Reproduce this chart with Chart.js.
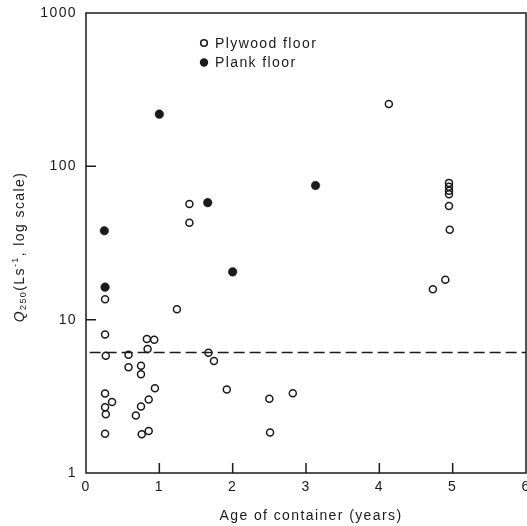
<!DOCTYPE html>
<html><head><meta charset="utf-8">
<script src="https://cdn.jsdelivr.net/npm/chart.js@4"></script>
<style>html,body{margin:0;padding:0;background:#fff}#wrap{width:527px;height:526px}</style>
</head><body><div id="wrap"><canvas id="c" width="527" height="526"></canvas></div>
<script>
const seriesNames = ['Plywood floor', 'Plank floor'];
const plywoodAge = [0.26,0.26,0.27,0.26,0.355,0.26,0.27,0.26,
  0.58,0.58,0.68,0.75,0.75,0.75,0.76,0.83,0.93,0.84,0.855,0.855,0.94,
  1.24,1.41,1.41,1.67,1.745,1.92,2.50,2.51,2.82,
  4.13,4.73,4.90,4.95,4.95,4.95,4.95,4.95,4.96];
const plywoodQ = [13.6,8.0,5.82,3.3,2.9,2.68,2.42,1.8,
  5.9,4.9,2.37,5.0,4.4,2.71,1.79,7.48,7.4,6.44,3.02,1.88,3.57,
  11.7,56.8,42.9,6.09,5.38,3.51,3.05,1.84,3.31,
  255,15.8,18.2,78,73.6,69.4,65.7,55.1,38.6];
const plankAge = [0.25,0.26,1.0,1.66,2.0,3.13];
const plankQ = [38,16.3,219,58,20.5,75];
const thresholdAge = [0.05, 6];
const thresholdQ = [6.1, 6.1];
const xTicks = [0,1,2,3,4,5,6];
const yTicks = [1,10,100,1000];
const xTitle = 'Age of container (years)';
const yTitleParts = ['Q','250','(Ls','-1',', log scale)'];

const FONT = '"Liberation Sans", Arial, Helvetica, sans-serif';
const INK = '#1a1a1a';
const SPACING = '1.4px';

const toPts = (xs, ys) => xs.map((x, i) => ({x: x, y: ys[i]}));

const spacingPlugin = {
  id: 'spacing',
  beforeUpdate(chart) { chart.ctx.letterSpacing = SPACING; },
  beforeDraw(chart) { chart.ctx.letterSpacing = SPACING; }
};

const framePlugin = {
  id: 'frame',
  afterDraw(chart) {
    const {ctx, chartArea: a, scales} = chart;
    ctx.save();
    ctx.strokeStyle = INK;
    ctx.lineWidth = 1.5;
    ctx.strokeRect(a.left, a.top, a.right - a.left, a.bottom - a.top);
    // inward tick marks
    ctx.beginPath();
    xTicks.forEach(v => {
      if (v <= 0 || v >= 6) return;
      const px = scales.x.getPixelForValue(v);
      ctx.moveTo(px, a.bottom); ctx.lineTo(px, a.bottom - 10);
    });
    yTicks.forEach(v => {
      if (v <= 1 || v >= 1000) return;
      const py = scales.y.getPixelForValue(v);
      ctx.moveTo(a.left, py); ctx.lineTo(a.left + 10, py);
    });
    ctx.stroke();

    ctx.letterSpacing = SPACING;
    ctx.fillStyle = INK;
    ctx.textBaseline = 'middle';

    // x-axis title
    ctx.font = '14px ' + FONT;
    ctx.textAlign = 'center';
    ctx.fillText(xTitle, (a.left + a.right) / 2 + 5, 516);

    // legend
    const lx = a.left + 118, ly = a.top + 30;
    ctx.textAlign = 'left';
    ctx.beginPath(); ctx.arc(lx, ly, 3.3, 0, Math.PI * 2); ctx.lineWidth = 1.6; ctx.stroke();
    ctx.fillText(seriesNames[0], lx + 11, ly + 1);
    ctx.beginPath(); ctx.arc(lx, ly + 19.5, 4.2, 0, Math.PI * 2); ctx.fill();
    ctx.fillText(seriesNames[1], lx + 11, ly + 20.5);

    // y-axis title (rotated)
    ctx.save();
    ctx.translate(20, (a.top + a.bottom) / 2 + 4);
    ctx.rotate(-Math.PI / 2);
    const big = '14px ' + FONT, small = '9px ' + FONT, ital = 'italic 14px ' + FONT;
    const segs = [
      {t: yTitleParts[0], f: ital, dy: 0},
      {t: yTitleParts[1], f: small, dy: 3.5},
      {t: yTitleParts[2], f: big, dy: 0},
      {t: yTitleParts[3], f: small, dy: -4.5},
      {t: yTitleParts[4], f: big, dy: 0}
    ];
    let total = 0;
    segs.forEach(s => { ctx.font = s.f; s.w = ctx.measureText(s.t).width; total += s.w; });
    let x = -total / 2;
    segs.forEach(s => { ctx.font = s.f; ctx.fillText(s.t, x, s.dy); x += s.w; });
    ctx.restore();
    ctx.restore();
  }
};

new Chart(document.getElementById('c'), {
  data: {
    datasets: [
      {
        type: 'line', label: 'threshold', data: toPts(thresholdAge, thresholdQ),
        borderColor: INK, borderWidth: 1.5, borderDash: [11, 5], pointRadius: 0, fill: false, order: 3
      },
      {
        type: 'scatter', label: seriesNames[0], data: toPts(plywoodAge, plywoodQ),
        pointStyle: 'circle', pointRadius: 3.5, borderWidth: 1.5, borderColor: INK,
        backgroundColor: 'rgba(0,0,0,0)', order: 2
      },
      {
        type: 'scatter', label: seriesNames[1], data: toPts(plankAge, plankQ),
        pointStyle: 'circle', pointRadius: 4.3, borderWidth: 0.5, borderColor: INK,
        backgroundColor: INK, order: 1
      }
    ]
  },
  options: {
    responsive: false, animation: false, devicePixelRatio: 1,
    layout: {autoPadding: false, padding: {top: 13, right: 1, left: 0, bottom: 0}},
    plugins: {legend: {display: false}, tooltip: {enabled: false}},
    scales: {
      x: {
        type: 'linear', min: 0, max: 6,
        afterBuildTicks: s => { s.ticks = xTicks.map(v => ({value: v})); },
        afterFit: s => { s.height = 53; s.paddingLeft = 0; s.paddingRight = 0; },
        grid: {display: false, drawTicks: false},
        border: {display: false},
        ticks: {color: INK, font: {family: FONT, size: 14}, padding: 6, maxRotation: 0, autoSkip: false, callback: v => String(v)}
      },
      y: {
        type: 'logarithmic', min: 1, max: 1000,
        afterBuildTicks: s => { s.ticks = yTicks.map(v => ({value: v})); },
        afterFit: s => { s.width = 86; s.paddingTop = 0; s.paddingBottom = 0; },
        grid: {display: false, drawTicks: false},
        border: {display: false},
        ticks: {color: INK, font: {family: FONT, size: 14}, padding: 9, autoSkip: false, callback: v => String(v)}
      }
    }
  },
  plugins: [spacingPlugin, framePlugin]
});
</script>
</body></html>
